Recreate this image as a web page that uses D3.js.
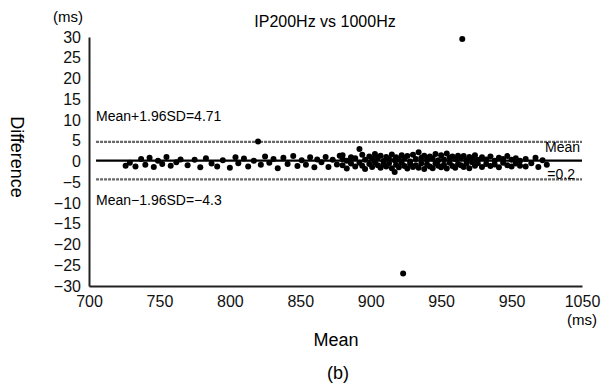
<!DOCTYPE html>
<html>
<head>
<meta charset="utf-8">
<script src="https://cdn.jsdelivr.net/npm/d3@7"></script>
<style>
  body { margin: 0; background: #fff; }
  svg { font-family: 'Liberation Sans', Arial, sans-serif; }
</style>
</head>
<body>
<div class="chart"></div>
<script>
// Bland-Altman data: mean (ms) and difference (ms)
const meanVals = [
  726, 729, 733, 737, 740, 743, 746, 749, 752, 755, 758, 762, 765, 770, 775, 779, 783, 787, 791, 795,
  800, 804, 806, 810, 813, 817, 820, 822, 825, 828, 831, 834, 838, 841, 845, 848, 851, 854, 857, 860,
  862, 865, 868, 870, 873, 876, 878,
  880, 880, 880, 883, 883, 886, 886, 889, 889, 892, 892, 894, 894, 896, 896, 899, 899, 901, 901,
  903, 903, 905, 905, 907, 907, 909, 909, 911, 911, 913, 913, 915, 915, 917, 917, 918, 918, 920, 920,
  922, 922, 923, 924, 924, 926, 926, 928, 928, 930, 930, 932, 932, 934, 934, 936, 936, 938, 938,
  940, 940, 942, 942, 944, 944, 946, 946, 948, 948, 950, 950, 952, 952, 954, 954, 956, 956, 958, 958,
  960, 960, 962, 962, 965,
  964, 964, 966, 966, 968, 968, 970, 970, 972, 972, 974, 974, 976, 976, 979, 979, 982, 982, 985, 985,
  988, 988, 991, 991, 994, 994, 997, 997, 1000, 1000, 1003, 1003, 1006, 1006, 1010, 1010,
  1014, 1017, 1019, 1022, 1025
];
const diffVals = [
  -1.0, -0.3, -1.2, 0.6, -0.8, 0.9, -1.3, 0.2, -0.6, 1.1, -1.0, -0.2, 0.5, -0.9, 0.4, -1.4, 0.8, -0.5, -1.2, 0.3,
  -1.5, 1.0, -0.4, 0.7, -1.2, 0.2, 4.8, -0.8, 1.2, -0.3, 0.6, -1.6, 0.9, -0.6, 1.3, -1.1, 0.3, -0.8, 1.0, -1.4,
  0.5, -0.2, 1.1, -1.3, 0.4, -0.7, 1.4,
  -0.9, 0.6, 1.5, -1.7, 0.2, 1.0, -0.5, -1.2, 0.8, 3.0, -0.3, 1.6, -1.0, 0.4, -1.8, 1.2, -0.6, -1.3, 0.7,
  1.8, -0.2, -0.9, 0.9, 1.4, -1.5, 0.1, -0.7, 1.1, -1.2, -0.4, 0.6, 1.7, -1.6, -2.5, 0.3, 1.0, -0.8, -1.4, 0.5,
  1.5, -0.3, -27.0, -1.1, 0.8, 1.3, -1.7, 0.0, -0.6, 1.6, -1.3, 0.6, -0.9, 2.2, -1.5, 0.9, -0.4, 1.4, -1.8,
  -0.7, 0.4, 1.2, -1.2, 0.7, -1.6, 1.8, -0.5, -1.0, 0.3, 1.5, -1.4, 0.5, -0.8, 1.9, -1.7, -0.3, 0.9, 1.2, -1.1,
  0.6, -1.5, 1.4, -0.6, 29.5,
  -0.9, 0.8, 1.3, -1.3, 0.3, -0.5, 1.1, -1.6, -0.2, 0.7, 1.5, -1.0, 0.4, -0.4, 1.0, -1.3, -0.6, 0.5, 1.2, -1.1,
  0.2, -0.7, 0.9, -1.4, -0.3, 0.6, 1.3, -0.9, -1.2, 0.4, 0.8, -0.5, -1.0, 0.2, 0.6, -1.2,
  -0.4, 0.9, -1.3, 0.3, -0.8
];

const xTicks = [700, 750, 800, 850, 900, 950, 1000, 1050];
const xTickLabels = ['700', '750', '800', '850', '900', '950', '950', '1050'];
const yTicks = [30, 25, 20, 15, 10, 5, 0, -5, -10, -15, -20, -25, -30];

const meanDiff = 0.2;
const upperLoA = 4.71;
const lowerLoA = -4.3;

const width = 612;
const height = 385;
const margin = { top: 37, right: 30, bottom: 99, left: 89 };

const svg = d3.select('.chart')
  .append('svg')
  .attr('width', width)
  .attr('height', height);

const xscale = d3.scaleLinear()
  .domain([700, 1050])
  .range([margin.left, width - margin.right]);
const yscale = d3.scaleLinear()
  .domain([-30, 30])
  .range([height - margin.bottom, margin.top]);

// axes (no tick marks, just labels)
const xAxis = d3.axisBottom(xscale)
  .tickValues(xTicks)
  .tickSize(0)
  .tickPadding(10)
  .tickFormat((d, i) => xTickLabels[i]);
const yAxis = d3.axisLeft(yscale)
  .tickValues(yTicks)
  .tickSize(0)
  .tickPadding(8);

const gx = svg.append('g')
  .attr('transform', 'translate(0,' + (height - margin.bottom) + ')')
  .call(xAxis);
const gy = svg.append('g')
  .attr('transform', 'translate(' + margin.left + ',0)')
  .call(yAxis);

[gx, gy].forEach(g => {
  g.select('.domain').attr('stroke', '#222').attr('stroke-width', 2);
  g.selectAll('text').attr('font-size', 16).attr('fill', '#111');
});

// reference lines
const lineX0 = xscale(705);
const lineX1 = xscale(1050);
[upperLoA, lowerLoA].forEach(v => {
  svg.append('line')
    .attr('x1', lineX0).attr('x2', lineX1)
    .attr('y1', yscale(v)).attr('y2', yscale(v))
    .attr('stroke', '#666')
    .attr('stroke-width', 2.2)
    .attr('stroke-dasharray', '3,1');
});
svg.append('line')
  .attr('x1', lineX0).attr('x2', lineX1)
  .attr('y1', yscale(meanDiff)).attr('y2', yscale(meanDiff))
  .attr('stroke', '#000')
  .attr('stroke-width', 2.2);

// points
svg.append('g')
  .selectAll('circle')
  .data(meanVals.map((m, i) => ({ x: m, y: diffVals[i] })))
  .enter()
  .append('circle')
  .attr('cx', d => xscale(d.x))
  .attr('cy', d => yscale(d.y))
  .attr('r', 3)
  .attr('fill', '#000');

// annotations
svg.append('text')
  .attr('x', lineX0).attr('y', yscale(upperLoA) - 21)
  .attr('font-size', 14)
  .text('Mean+1.96SD=' + upperLoA);
svg.append('text')
  .attr('x', lineX0).attr('y', yscale(lowerLoA) + 26)
  .attr('font-size', 14)
  .text('Mean\u22121.96SD=\u2212' + Math.abs(lowerLoA));
svg.append('text')
  .attr('x', lineX1 - 2).attr('y', yscale(meanDiff) - 9)
  .attr('text-anchor', 'end')
  .attr('font-size', 14)
  .text('Mean');
svg.append('text')
  .attr('x', lineX1 - 7).attr('y', yscale(meanDiff) + 18)
  .attr('text-anchor', 'end')
  .attr('font-size', 14)
  .text('=' + meanDiff);

// titles and units
svg.append('text')
  .attr('x', 325).attr('y', 27)
  .attr('text-anchor', 'middle')
  .attr('font-size', 16)
  .text('IP200Hz vs 1000Hz');
svg.append('text')
  .attr('x', 68).attr('y', 22)
  .attr('text-anchor', 'middle')
  .attr('font-size', 15)
  .text('(ms)');
svg.append('text')
  .attr('x', xscale(1050)).attr('y', 325)
  .attr('text-anchor', 'middle')
  .attr('font-size', 15)
  .text('(ms)');
svg.append('text')
  .attr('transform', 'translate(11,157) rotate(90)')
  .attr('text-anchor', 'middle')
  .attr('font-size', 18)
  .text('Difference');
svg.append('text')
  .attr('x', 336).attr('y', 346)
  .attr('text-anchor', 'middle')
  .attr('font-size', 18)
  .text('Mean');
svg.append('text')
  .attr('x', 338).attr('y', 379)
  .attr('text-anchor', 'middle')
  .attr('font-size', 18)
  .text('(b)');
</script>
</body>
</html>
